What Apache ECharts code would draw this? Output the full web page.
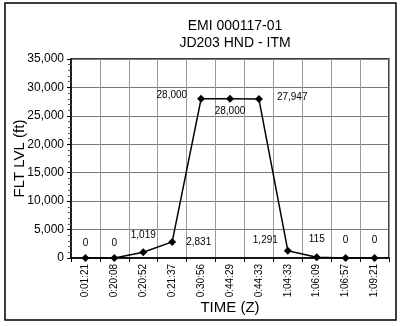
<!DOCTYPE html>
<html><head><meta charset="utf-8">
<script src="https://cdn.jsdelivr.net/npm/echarts@6/dist/echarts.min.js"></script>
<style>html,body{margin:0;padding:0;background:#fff}#c{width:400px;height:326px}</style>
</head><body><div id="c"></div>
<script>
const titleLines = ['EMI 000117-01', 'JD203 HND - ITM'];
const categories = ['0:01:21','0:20:08','0:20:52','0:21:37','0:30:56','0:44:29','0:44:33','1:04:33','1:06:09','1:06:57','1:09:21'];
const fltLevel = [0, 0, 1019, 2831, 28000, 28000, 27947, 1291, 115, 0, 0];
const yTicks = [0, 5000, 10000, 15000, 20000, 25000, 30000, 35000];
const yName = 'FLT LVL (ft)';
const xName = 'TIME (Z)';
// label placement per point (style only)
const labelPlace = [
  {position:'top', distance:6},
  {position:'top', distance:6},
  {position:'top', distance:8},
  {position:'right', distance:10},
  {position:'left', distance:10, offset:[0,-4]},
  {position:'bottom', distance:3},
  {position:'right', distance:14, offset:[0,-2]},
  {position:'left', distance:6, offset:[0,-10]},
  {position:'top', distance:9},
  {position:'top', distance:9},
  {position:'top', distance:9}
];
const fmt = v => v.toLocaleString('en-US');
const font = '"Liberation Sans", Arial, sans-serif';
const chart = echarts.init(document.getElementById('c'), null, {renderer:'canvas'});
chart.setOption({
  backgroundColor:'#fff',
  animation:false,
  title:{text:titleLines.join('\n'), left:230, textAlign:'center', top:13,
    textStyle:{fontFamily:font, fontSize:14, fontWeight:'normal', color:'#000', lineHeight:17}},
  graphic:[{type:'rect', shape:{x:5, y:3, width:391, height:317}, style:{fill:null, stroke:'#000', lineWidth:1.5}, silent:true}],
  grid:{left:71, right:11, top:59, bottom:68, containLabel:false, outerBoundsMode:'none', show:true, borderColor:'#000', borderWidth:1.5},
  xAxis:{type:'category', data:categories, boundaryGap:true,
    name:xName, nameLocation:'middle', nameGap:42, nameMoveOverlap:false,
    nameTextStyle:{fontFamily:font, fontSize:15, color:'#000'},
    axisLine:{lineStyle:{color:'#000', width:1.5}},
    axisTick:{show:true, length:4, lineStyle:{color:'#000'}},
    axisLabel:{rotate:90, margin:6, fontFamily:font, fontSize:10, color:'#000', interval:0},
    splitLine:{show:true, interval:0, lineStyle:{color:'#999', width:1}}},
  yAxis:{type:'value', min:yTicks[0], max:yTicks[yTicks.length-1], interval:yTicks[1]-yTicks[0],
    name:yName, nameLocation:'middle', nameGap:44, nameRotate:90, nameMoveOverlap:false,
    nameTextStyle:{fontFamily:font, fontSize:15, color:'#000'},
    axisLine:{show:true, lineStyle:{color:'#000', width:1.5}},
    axisTick:{show:true, length:4, lineStyle:{color:'#000'}},
    minorTick:{show:true, splitNumber:5, length:3, lineStyle:{color:'#555'}},
    axisLabel:{formatter:fmt, margin:7, fontFamily:font, fontSize:12, color:'#000'},
    splitLine:{show:true, lineStyle:{color:'#777', width:1}}},
  series:[{type:'line', data:fltLevel.map((v,i)=>({value:v, label:labelPlace[i]})),
    symbol:'diamond', symbolSize:8, itemStyle:{color:'#000'},
    lineStyle:{color:'#000', width:1.5},
    label:{show:true, formatter:p=>fmt(p.value), fontFamily:font, fontSize:10, color:'#000'}}]
});
</script></body></html>
